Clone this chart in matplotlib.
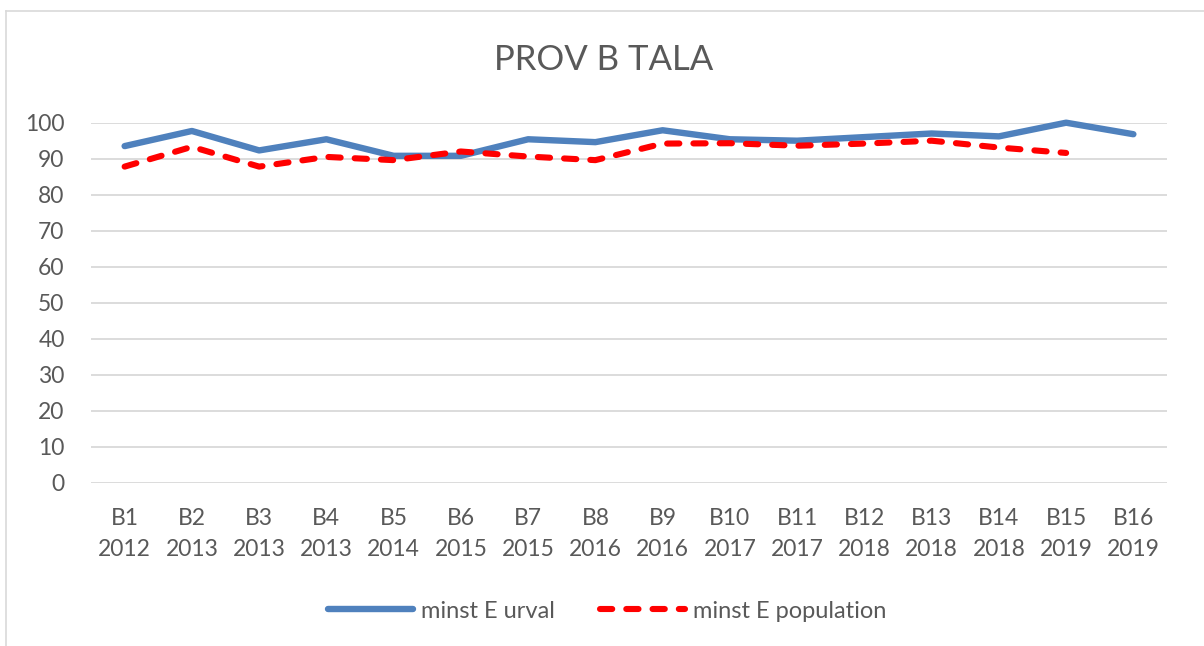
import matplotlib
matplotlib.use("Agg")
import matplotlib.pyplot as plt
from matplotlib.lines import Line2D

# --- data ---
kategorier = ["B1\n2012", "B2\n2013", "B3\n2013", "B4\n2013", "B5\n2014", "B6\n2015",
              "B7\n2015", "B8\n2016", "B9\n2016", "B10\n2017", "B11\n2017", "B12\n2018",
              "B13\n2018", "B14\n2018", "B15\n2019", "B16\n2019"]
urval = [93.5, 97.7, 92.3, 95.4, 90.8, 90.8, 95.4, 94.6, 97.9, 95.4, 95.0, 96.0,
         97.0, 96.2, 100.0, 96.8]
population = [87.8, 93.3, 87.8, 90.5, 89.6, 92.0, 90.6, 89.6, 94.2, 94.3, 93.6, 94.2,
              95.0, 93.1, 91.6]
y_ticks = list(range(0, 101, 10))

TEXT = "#595959"
GRID = "#D9D9D9"
BLUE = "#4F81BD"
RED = "#FF0000"

plt.rcParams["font.family"] = ["Lato", "DejaVu Sans"]

fig = plt.figure(figsize=(12.04, 6.46), dpi=100)
ax = fig.add_axes([91 / 1204, 1 - 482.7 / 646, (1167 - 91) / 1204, 360 / 646])

x = list(range(len(kategorier)))
ax.plot(x, urval, color=BLUE, lw=4.6, solid_capstyle="round", solid_joinstyle="round",
        clip_on=False, label="minst E urval", zorder=3)
ax.plot(x[:len(population)], population, color=RED, lw=4.4, dashes=(2, 2.3),
        dash_capstyle="round", dash_joinstyle="round", clip_on=False,
        label="minst E population", zorder=4)

ax.set_xlim(-0.5, len(kategorier) - 0.5)
ax.set_ylim(0, 100)
ax.set_yticks(y_ticks)
ax.set_xticks(x)
ax.set_xticklabels(kategorier, linespacing=1.6)
ax.tick_params(axis="both", length=0, labelsize=16.5, labelcolor=TEXT)
ax.tick_params(axis="x", pad=18)
ax.tick_params(axis="y", pad=19)
ax.yaxis.grid(True, color=GRID, lw=1.3)
ax.set_axisbelow(True)
for s in ax.spines.values():
    s.set_visible(False)

fig.text(603.5 / 1204, 1 - 60 / 646, "PROV B TALA", ha="center", va="center",
         fontsize=25, color=TEXT)

leg = ax.legend(loc="center", bbox_to_anchor=(607.5 / 1204, 1 - 611 / 646),
                bbox_transform=fig.transFigure, ncol=2, frameon=False, fontsize=17,
                handlelength=3.6, handletextpad=0.35, columnspacing=1.9)
for t in leg.get_texts():
    t.set_color(TEXT)

# chart frame (left and top edges visible)
fig.add_artist(Line2D([6 / 1204, 6 / 1204], [0, 1 - 11 / 646], transform=fig.transFigure,
                      color=GRID, lw=1.2))
fig.add_artist(Line2D([6 / 1204, 1], [1 - 11 / 646, 1 - 11 / 646], transform=fig.transFigure,
                      color=GRID, lw=1.2))

fig.savefig("out.png", dpi=100)
